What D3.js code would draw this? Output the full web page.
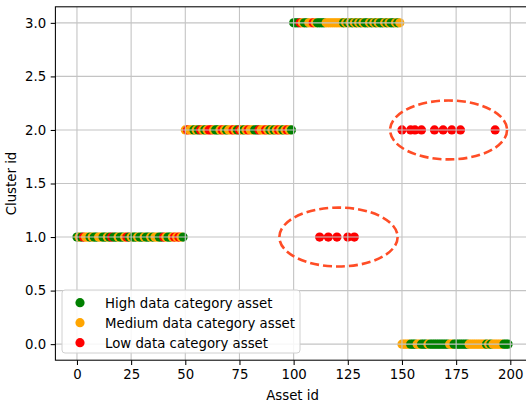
<!DOCTYPE html>
<html>
<head>
<meta charset="utf-8">
<script src="https://cdn.jsdelivr.net/npm/d3@7"></script>
<style>
  body { margin: 0; background: #fff; }
  svg { display: block; font-family: "DejaVu Sans", sans-serif; }
</style>
</head>
<body>
<svg id="chart" width="526" height="406"></svg>
<script>
// category per asset: H = high, M = medium, L = low
const cluster1Start = 0;
const cluster1Cats = 'HMHLMMHMHH' + 'MMHHMHLHHM' + 'HHMLHMHHMH' + 'HMHHMHMMHH' + 'LMHHMLMLMH';
const cluster2Start = 50;
const cluster2Cats = 'MLMMHMHLMH' + 'MLLMHHMLMH' + 'MMLMHLMHML' + 'MMHHLMMLMH' + 'MHMLMHMLMH';
const cluster3Start = 100;
const cluster3Cats = 'HHHLMHHMML' + 'MHHHHMMMMM' + 'MMMHMHMHMH' + 'MHMHHMHMHM' + 'HHMHMHHMHM';
const cluster0Start = 150;
const cluster0Cats = 'MMMMHHHMMH' + 'HHMHHHHHHH' + 'HHMMHHHHHH' + 'HMMMMMMMMH' + 'MHMMMMMHHH';

// low data assets that ended up in other clusters
const lowInCluster1 = [112, 116, 120, 125, 128];
const lowInCluster2 = [150, 154, 156, 159, 165, 169, 173, 177, 193];

// dashed ellipses: [center asset id, center cluster id, width, height]
const ellipses = [[120.7, 1, 54.6, 0.55], [171.5, 2, 54, 0.55]];

const xTicks = [0, 25, 50, 75, 100, 125, 150, 175, 200];
const yTicks = [0, 0.5, 1, 1.5, 2, 2.5, 3];

const legendLabels = ['High data category asset', 'Medium data category asset', 'Low data category asset'];
const colors = { H: 'green', M: 'orange', L: 'red' };

const svg = d3.select('#chart');

const mLeft = 55.4;
const mRight = 529.7;
const mTop = 6.8;
const mBottom = 360.2;

const x = d3.scaleLinear().domain([-9.95, 208.95]).range([mLeft, mRight]);
const y = d3.scaleLinear().domain([-0.15, 3.15]).range([mBottom, mTop]);

// build point list in draw order
const points = [];
function addCluster(start, cats, cluster) {
  cats.split('').forEach((c, i) => {
    points.push({ id: start + i, cluster: cluster, cat: c });
  });
}
addCluster(cluster1Start, cluster1Cats, 1);
addCluster(cluster2Start, cluster2Cats, 2);
lowInCluster1.forEach(id => points.push({ id: id, cluster: 1, cat: 'L' }));
addCluster(cluster3Start, cluster3Cats, 3);
lowInCluster2.forEach(id => points.push({ id: id, cluster: 2, cat: 'L' }));
addCluster(cluster0Start, cluster0Cats, 0);

svg.append('clipPath').attr('id', 'clip')
  .append('rect')
  .attr('x', mLeft).attr('y', mTop)
  .attr('width', mRight - mLeft).attr('height', mBottom - mTop);

const plot = svg.append('g').attr('clip-path', 'url(#clip)');

plot.selectAll('circle.pt')
  .data(points)
  .enter()
  .append('circle')
  .attr('class', 'pt')
  .attr('cx', d => x(d.id))
  .attr('cy', d => y(d.cluster))
  .attr('r', 4.6)
  .attr('fill', d => colors[d.cat]);

// grid (drawn on top of the points like the original)
xTicks.forEach(t => {
  plot.append('line')
    .attr('x1', x(t)).attr('x2', x(t))
    .attr('y1', mTop).attr('y2', mBottom)
    .attr('style', 'stroke:#c4c4c4;stroke-width:1.1');
});
yTicks.forEach(t => {
  plot.append('line')
    .attr('x1', mLeft).attr('x2', mRight)
    .attr('y1', y(t)).attr('y2', y(t))
    .attr('style', 'stroke:#c4c4c4;stroke-width:1.1');
});

ellipses.forEach(e => {
  plot.append('ellipse')
    .attr('cx', x(e[0]))
    .attr('cy', y(e[1]))
    .attr('rx', x(e[0] + e[2] / 2) - x(e[0]))
    .attr('ry', y(e[1]) - y(e[1] + e[3] / 2))
    .attr('fill', 'none')
    .attr('stroke', '#ff4d26')
    .attr('stroke-width', 2.6)
    .attr('stroke-dasharray', '9,4');
});

// axes
const xAxis = svg.append('g')
  .attr('transform', `translate(0,${mBottom})`)
  .call(d3.axisBottom(x).tickValues(xTicks).tickSize(4.7).tickPadding(4.5).tickFormat(d3.format('d')));
const yAxis = svg.append('g')
  .attr('transform', `translate(${mLeft},0)`)
  .call(d3.axisLeft(y).tickValues(yTicks).tickSize(4.7).tickPadding(4.5).tickFormat(d3.format('.1f')));

[xAxis, yAxis].forEach(a => {
  a.select('.domain').remove();
  a.selectAll('line').attr('stroke', '#000').attr('stroke-width', 1.05);
  a.selectAll('text')
    .attr('font-family', '"DejaVu Sans", sans-serif')
    .attr('font-size', '13.3px')
    .attr('fill', '#000');
});

// spines
svg.append('rect')
  .attr('x', mLeft).attr('y', mTop)
  .attr('width', mRight - mLeft).attr('height', mBottom - mTop)
  .attr('fill', 'none')
  .attr('stroke', '#000')
  .attr('stroke-width', 1.05);

svg.append('text')
  .attr('x', (mLeft + mRight) / 2)
  .attr('y', 400)
  .attr('text-anchor', 'middle')
  .attr('font-size', '13.3px')
  .text('Asset id');

svg.append('text')
  .attr('transform', `translate(16,${(mTop + mBottom) / 2}) rotate(-90)`)
  .attr('text-anchor', 'middle')
  .attr('font-size', '13.3px')
  .text('Cluster id');

// legend
const legend = svg.append('g');
legend.append('rect')
  .attr('x', 62).attr('y', 290)
  .attr('width', 238).attr('height', 63)
  .attr('rx', 3).attr('ry', 3)
  .attr('fill', '#fff')
  .attr('fill-opacity', 0.85)
  .attr('stroke', '#d0d0d0')
  .attr('stroke-width', 1);

legendLabels.forEach((label, i) => {
  const cy = 302.7 + i * 20;
  legend.append('circle')
    .attr('cx', 80).attr('cy', cy)
    .attr('r', 4.6)
    .attr('fill', colors['HML'[i]]);
  legend.append('text')
    .attr('x', 105).attr('y', cy + 4.8)
    .attr('font-size', '13.3px')
    .text(label);
});
</script>
</body>
</html>
